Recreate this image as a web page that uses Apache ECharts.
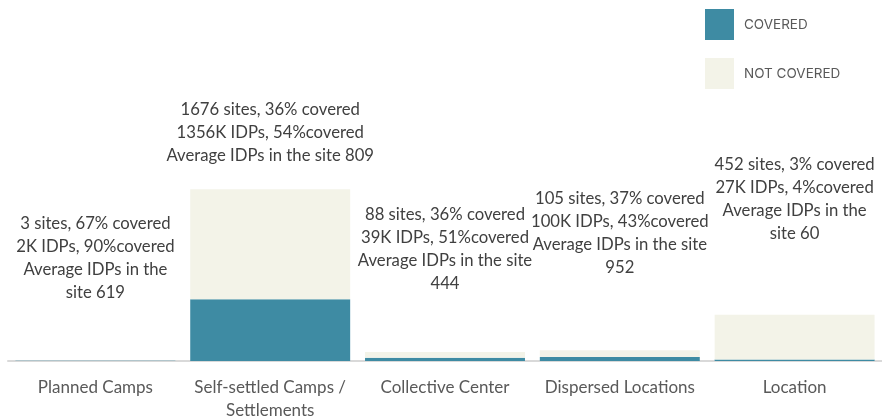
<!DOCTYPE html>
<html>
<head>
<meta charset="utf-8">
<script src="https://cdn.jsdelivr.net/npm/echarts@6/dist/echarts.min.js"></script>
<style>html,body{margin:0;padding:0;background:#fff}#c{width:882px;height:419px}</style>
</head>
<body>
<div id="c"></div>
<script>
const categories = ['Planned Camps', 'Self-settled Camps /\nSettlements', 'Collective Center', 'Dispersed Locations', 'Location'];
const covered = [2, 603, 32, 39, 14];
const notCovered = [1, 1073, 56, 66, 438];
const labelTexts = [
  '3 sites, 67% covered\n2K IDPs, 90%covered\nAverage IDPs in the\nsite 619',
  '1676 sites, 36% covered\n1356K IDPs, 54%covered\nAverage IDPs in the site 809',
  '88 sites, 36% covered\n39K IDPs, 51%covered\nAverage IDPs in the site\n444',
  '105 sites, 37% covered\n100K IDPs, 43%covered\nAverage IDPs in the site\n952',
  '452 sites, 3% covered\n27K IDPs, 4%covered\nAverage IDPs in the\nsite 60'
];
const labelGap = [57, 22, 57, 71, 70];

const chart = echarts.init(document.getElementById('c'));
const font = 'Lato, "Open Sans", sans-serif';
chart.setOption({
  animation: false,
  legend: {
    orient: 'vertical',
    left: 700, top: 4,
    itemWidth: 29, itemHeight: 31, itemGap: 18,
    icon: 'rect',
    textStyle: { color: '#595959', fontSize: 13.5, fontFamily: 'Inter, "Open Sans", sans-serif', padding: [0, 0, 0, 5] },
    data: ['COVERED', 'NOT COVERED']
  },
  grid: { left: 8, right: 0, top: 156, bottom: 58, outerBoundsMode: 'none', containLabel: false },
  xAxis: {
    type: 'category',
    data: categories,
    axisLine: { lineStyle: { color: '#d9d9d9', width: 2 } },
    axisTick: { show: false },
    axisLabel: { color: '#595959', fontSize: 17, fontFamily: font, margin: 15, lineHeight: 23, interval: 0 }
  },
  yAxis: { type: 'value', min: 0, max: 2000, show: false, splitLine: { show: false } },
  series: [
    {
      name: 'COVERED', type: 'bar', stack: 's', barCategoryGap: '8.5%',
      itemStyle: { color: '#3e8ba3' },
      data: covered
    },
    {
      name: 'NOT COVERED', type: 'bar', stack: 's',
      itemStyle: { color: '#f3f3e8' },
      data: notCovered.map((v, i) => ({
        value: v,
        label: {
          show: true, position: 'top', distance: labelGap[i],
          formatter: labelTexts[i],
          color: '#404040', fontSize: 16.7, lineHeight: 23, fontFamily: font, align: 'center'
        }
      }))
    }
  ]
});
</script>
</body>
</html>
